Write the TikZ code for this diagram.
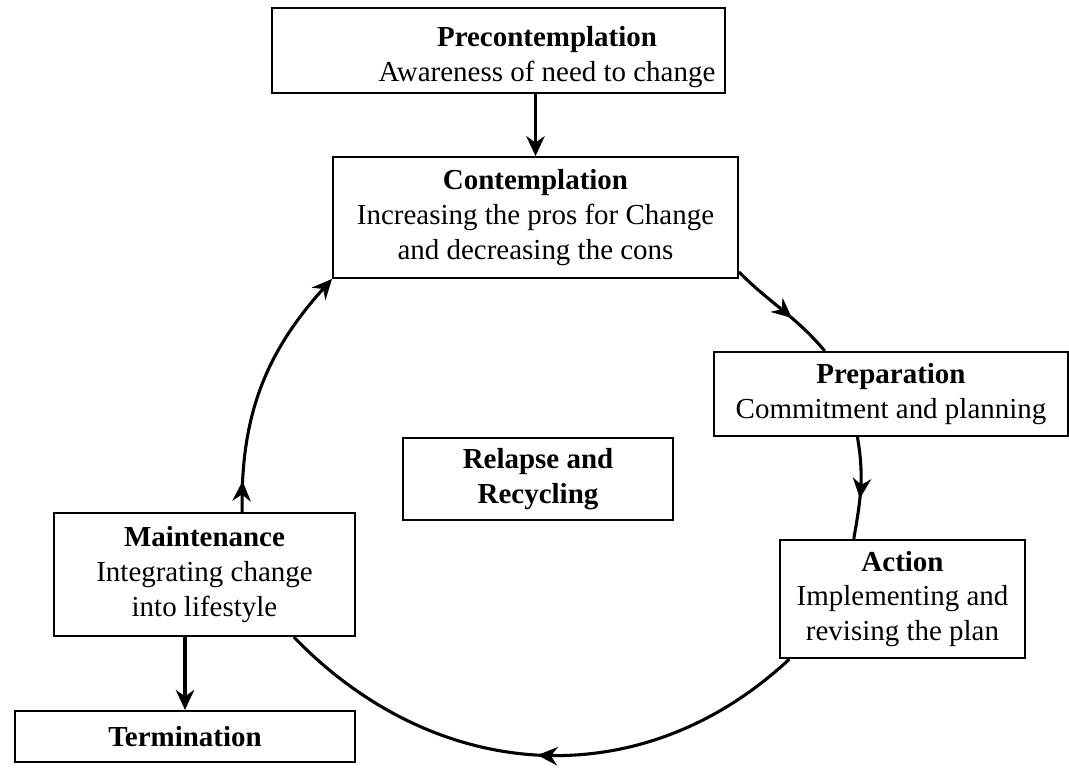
\documentclass[tikz,border=0pt]{standalone}
\usepackage{fontspec}
\setmainfont{Liberation Serif}
\usetikzlibrary{arrows.meta}
\usetikzlibrary{decorations.markings}
\newcommand{\stagename}[1]{\textbf{#1}}

\begin{document}
\begin{tikzpicture}[x=0.0125cm, y=0.0125cm,
  >={Stealth[length=2.5mm, width=2.3mm]},
  stage/.style={draw, line width=0.7pt, align=center, inner sep=0pt,
    font=\fontsize{10.3}{12.4}\selectfont},
  cycleline/.style={line width=1.1pt},
  midtip/.style={postaction={decorate},
    decoration={markings, mark=at position #1 with {\arrow{>}}}}]
  \useasboundingbox (0, 0) rectangle (1069, -767);

  % stages of change
  \node[stage, minimum width=5.66cm, minimum height=1.06cm] (pre) at (498.5, -50.5) {};
  \node[align=center, font=\fontsize{10.3}{12.4}\selectfont] (pretext) at (547, -57)
    {\stagename{Precontemplation}\\Awareness of need to change};
  \node[stage, minimum width=5.06cm, minimum height=1.51cm] (con) at (535.5, -217.5)
    {\stagename{Contemplation}\\Increasing the pros for Change\\and decreasing the cons};
  \node[stage, minimum width=4.43cm, minimum height=1.05cm] (prep) at (891, -394)
    {\stagename{Preparation}\\Commitment and planning};
  \node[stage, minimum width=3.06cm, minimum height=1.48cm] (act) at (902.5, -599)
    {\stagename{Action}\\Implementing and\\revising the plan};
  \node[stage, minimum width=3.76cm, minimum height=1.54cm] (mai) at (204.5, -574.5)
    {\stagename{Maintenance}\\Integrating change\\into lifestyle};
  \node[stage, minimum width=4.25cm, minimum height=0.64cm] (ter) at (185, -736.5)
    {\stagename{Termination}};
  \node[stage, minimum width=3.38cm, minimum height=1.03cm] (rel) at (538, -479)
    {\stagename{Relapse and}\\\stagename{Recycling}};

  % straight arrows
  \draw[cycleline, ->] (pre.south -| con.north) -- (con.north);
  \draw[cycleline, ->] (mai.south -| ter.north) -- (ter.north);

  % the cycle
  \draw[cycleline, midtip=0.6] (con.-15) to[out=-45, in=130] (prep.147);
  \draw[cycleline, midtip=0.6] (prep.-128) to[out=-80, in=80] (act.129);
  \draw[cycleline, midtip=0.5] (act.-152) to[out=-137, in=-46, looseness=1.05] (mai.-35);
  \draw[cycleline, midtip=0.12, ->] (mai.59) to[out=91, in=-132] (con.south west);
\end{tikzpicture}
\end{document}
